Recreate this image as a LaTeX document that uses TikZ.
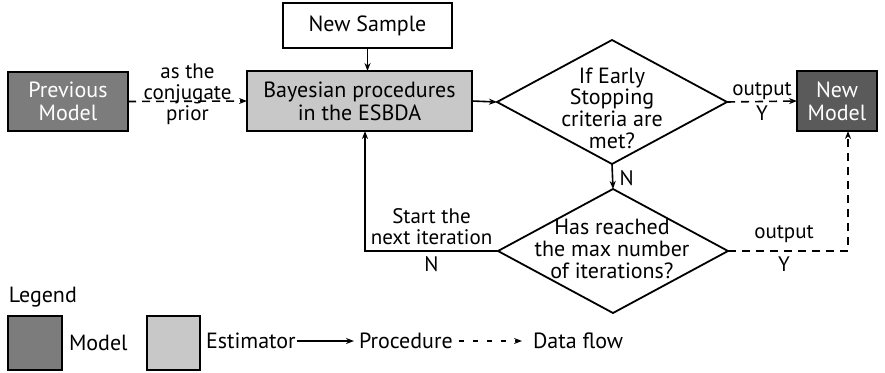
\documentclass[tikz,border=0pt]{standalone}
\usepackage{fontspec}
\setmainfont{PT Sans}
\usetikzlibrary{arrows.meta,shapes.geometric,calc}
\definecolor{modelgray}{HTML}{7C7C7C}
\definecolor{newgray}{HTML}{5A5A5A}
\definecolor{estgray}{HTML}{C8C8C8}
\begin{document}
\begin{tikzpicture}[x=1pt,y=-1pt,
  font=\fontsize{22}{23}\selectfont,
  every node/.style={inner sep=0pt, outer sep=0pt},
  arr/.style={-{Stealth[length=8pt,width=6pt]}, line width=1.6pt},
  darr/.style={arr, dash pattern=on 8pt off 6pt},
  boxstyle/.style={draw, line width=1.8pt, align=center, anchor=north west},
  diam/.style={draw, diamond, line width=1.8pt},
  dtext/.style={align=center, font=\fontsize{22}{21.7}\selectfont},
  lbl/.style={font=\fontsize{21}{21}\selectfont, align=center}]
\useasboundingbox (0,0) rectangle (885,372);
% main boxes
\node[boxstyle, fill=modelgray, text=white, minimum width=120pt, minimum height=59pt] (prev) at (8,72) {Previous\\Model};
\node[boxstyle, fill=estgray, minimum width=225pt, minimum height=60pt] (bayes) at (247,71) {Bayesian procedures\\in the ESBDA};
\node[boxstyle, fill=white, minimum width=169pt, minimum height=45pt] (sample) at (283,3) {New Sample};
\node[boxstyle, fill=newgray, text=white, minimum width=80pt, minimum height=60pt] (newm) at (797,71) {New\\Model};
% diamonds
\node[diam, minimum width=230pt, minimum height=124pt] (d1) at (612,102) {};
\node[dtext] (d1t) at (612,108) {If Early\\Stopping\\criteria are\\met?};
\node[diam, minimum width=230pt, minimum height=124pt] (d2) at (613,251) {};
\node[dtext] (d2t) at (612,249) {Has reached\\the max number\\of iterations?};
% connectors
\draw[arr] (sample.south) -- (bayes.north -| sample.south);
\draw[darr] (prev.east) -- node[lbl, yshift=7pt] {as the\\conjugate\\prior} (bayes.west);
\draw[arr] (bayes.east) -- (d1.west);
\draw[darr] (d1.east) -- node[lbl, above=2pt] {output} node[lbl, below=4pt] {Y} (newm.west);
\draw[arr] (d1.south) -- node[lbl, right=7pt, yshift=-2pt] {N} (d2.north);
\coordinate (c1) at (365,251);
\draw[arr] (d2.west) -- node[lbl, above=6pt] {Start the\\next iteration} node[lbl, below=6pt] {N} (c1) -- (c1 |- bayes.south);
\coordinate (c2) at (848,251);
\draw[darr] (d2.east) -- node[lbl, above=8pt, xshift=-4pt] {output} node[lbl, below=6pt, xshift=-4pt] {Y} (c2) -- (c2 |- newm.south);
% legend
\node[anchor=west] (leg) at (9,297) {Legend};
\node[boxstyle, fill=modelgray, minimum width=54pt, minimum height=54pt] (lm) at (8,316) {};
\node[anchor=west] (lmt) at (69,343) {Model};
\node[boxstyle, fill=estgray, minimum width=53pt, minimum height=54pt] (le) at (147,316) {};
\node[anchor=west] (let) at (206,341) {Estimator};
\node[anchor=west] (lpt) at (359,341) {Procedure};
\node[anchor=west] (ldt) at (533,341) {Data flow};
\coordinate (a1) at ($(let.east)+(1pt,0)$);
\coordinate (a2) at ($(lpt.west)+(-5pt,0)$);
\coordinate (b1) at ($(lpt.east)+(6pt,0)$);
\coordinate (b2) at ($(ldt.west)+(-11pt,0)$);
\draw[arr, line width=1.3pt] (a1) -- (a2);
\draw[darr, line width=1.3pt, dash pattern=on 5pt off 9pt] (b1) -- (b2);
\end{tikzpicture}
\end{document}
